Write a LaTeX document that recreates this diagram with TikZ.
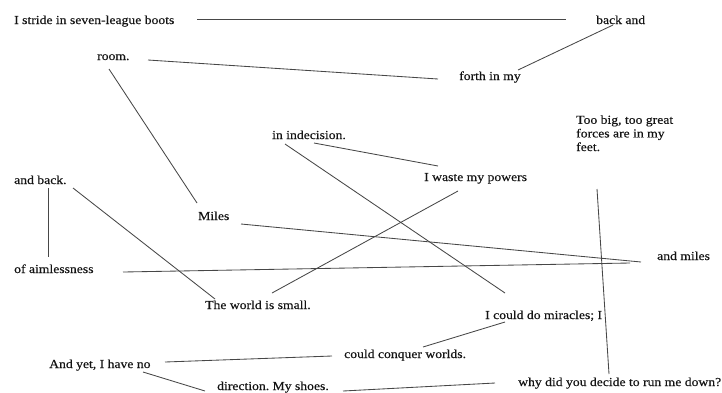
\documentclass[tikz,border=0pt]{standalone}
\usepackage{fontspec}
\setmainfont{Liberation Serif}[FakeStretch=1.12,FakeBold=0.35]
\frenchspacing
\begin{document}
\begin{tikzpicture}[x=1pt,y=-1pt,
  word/.style={inner sep=0pt,anchor=base west,text=black!92,font=\fontsize{12.2}{13.6}\selectfont},
  link/.style={draw=black!72,line width=0.85pt}]
\useasboundingbox (0,0) rectangle (722,392);
% nodes (base west = left end of baseline)
\node[word] (stride)    at (14,24)  {I stride in seven-league boots};
\node[word] (backand)   at (596,24) {back and};
\node[word] (forth)     at (459,80) {forth in my};
\node[word] (room)      at (97,60)  {room.};
\node[word] (ind)       at (272,139){in indecision.};
\node[word] (waste)     at (424,181){I waste my powers};
\node[word,align=left] (toobig) at (576,151) {Too big, too great\\forces are in my\\feet.};
\node[word] (andback)   at (14,184) {and back.};
\node[word] (miles)     at (198,220){Miles};
\node[word] (aim)       at (14,273) {of aimlessness};
\node[word] (world)     at (205,309){The world is small.};
\node[word] (andmiles)  at (657,260){and miles};
\node[word] (miracles)  at (485,319){I could do miracles; I};
\node[word] (conquer)   at (344,358){could conquer worlds.};
\node[word] (andyet)    at (49,368) {And yet, I have no};
\node[word] (direction) at (217,390){direction. My shoes.};
\node[word] (why)       at (518,386){why did you decide to run me down?};
% connectors
\draw[link] ([shift={(183,-5)}]stride.base west) -- ([shift={(-30,-5)}]backand.base west);
\draw[link] ([shift={(17,1)}]backand.base west) -- ([shift={(59,-10)}]forth.base west);
\draw[link] ([shift={(51,0)}]room.base west) -- ([shift={(-21,-1)}]forth.base west);
\draw[link] ([shift={(12,9)}]room.base west) -- ([shift={(-1,-17)}]miles.base west);
\draw[link] ([shift={(42,4)}]ind.base west) -- ([shift={(14,-15)}]waste.base west);
\draw[link] ([shift={(13,5)}]ind.base west) -- ([shift={(20,-26)}]miracles.base west);
\draw[link] ([shift={(21,38)}]toobig.base west) -- ([shift={(91,-12)}]why.base west);
\draw[link] ([shift={(34,4)}]andback.base west) -- ([shift={(34,-16)}]aim.base west);
\draw[link] ([shift={(59,4)}]andback.base west) -- ([shift={(10,-10)}]world.base west);
\draw[link] ([shift={(109,-1)}]aim.base west) -- ([shift={(-27,3)}]andmiles.base west);
\draw[link] ([shift={(43,4)}]miles.base west) -- ([shift={(-16,2)}]andmiles.base west);
\draw[link] ([shift={(34,10)}]waste.base west) -- ([shift={(67,-16)}]world.base west);
\draw[link] ([shift={(20,3)}]miracles.base west) -- ([shift={(79,-11)}]conquer.base west);
\draw[link] ([shift={(116,-6)}]andyet.base west) -- ([shift={(-12,-2)}]conquer.base west);
\draw[link] ([shift={(94,4)}]andyet.base west) -- ([shift={(-12,1)}]direction.base west);
\draw[link] ([shift={(126,1)}]direction.base west) -- ([shift={(-23,-3)}]why.base west);
\end{tikzpicture}
\end{document}
